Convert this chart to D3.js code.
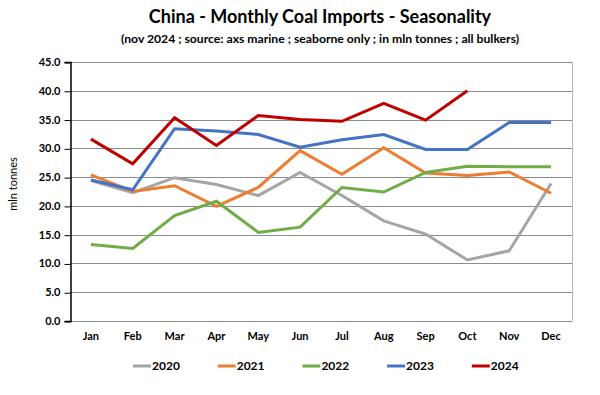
<!DOCTYPE html>
<html>
<head>
<meta charset="utf-8">
<script src="https://cdn.jsdelivr.net/npm/d3@7"></script>
<style>
  body { margin: 0; background: #fff; }
  svg { display: block; font-family: Lato, "Open Sans", sans-serif; }
</style>
</head>
<body>
<svg id="chart" width="600" height="395"></svg>
<script>
// Datos
const months = ['Jan', 'Feb', 'Mar', 'Apr', 'May', 'Jun', 'Jul', 'Aug', 'Sep', 'Oct', 'Nov', 'Dec'];
const years = ['2020', '2021', '2022', '2023', '2024'];
const y2020 = [24.4, 22.3, 24.9, 23.7, 21.8, 25.8, 21.8, 17.4, 15.1, 10.6, 12.2, 23.9];
const y2021 = [25.4, 22.5, 23.5, 19.9, 23.2, 29.6, 25.5, 30.1, 25.7, 25.3, 25.9, 22.2];
const y2022 = [13.3, 12.6, 18.3, 20.8, 15.4, 16.3, 23.2, 22.4, 25.8, 26.9, 26.8, 26.8];
const y2023 = [24.5, 22.8, 33.4, 33.0, 32.4, 30.2, 31.5, 32.4, 29.8, 29.8, 34.5, 34.5];
const y2024 = [31.6, 27.3, 35.3, 30.5, 35.7, 35.0, 34.7, 37.8, 34.9, 40.0];
const yTicks = [0, 5, 10, 15, 20, 25, 30, 35, 40, 45];

const series = [y2020, y2021, y2022, y2023, y2024];
const colors = ['#A5A5A5', '#ED7D31', '#70AD47', '#4472C4', '#C00000'];

// Dimensiones
const margins = { left: 70, top: 62, right: 28, bottom: 74 };
const width = 600, height = 395;
const innerWidth = width - margins.left - margins.right;
const innerHeight = height - margins.top - margins.bottom;

const svg = d3.select('#chart');

// Escalas
const x = d3.scalePoint().domain(months).range([0, innerWidth]).padding(0.5);
const y = d3.scaleLinear().domain([0, 45]).range([innerHeight, 0]);

const g = svg.append('g').attr('transform', `translate(${margins.left}, ${margins.top})`);

// Rejilla
g.append('g')
  .selectAll('line')
  .data(yTicks)
  .join('line')
  .attr('x1', 0)
  .attr('x2', innerWidth)
  .attr('y1', d => Math.round(y(d)) + 0.5)
  .attr('y2', d => Math.round(y(d)) + 0.5)
  .style('stroke', '#8c8c8c')
  .style('stroke-width', 1.2);

// Borde derecho
g.append('line')
  .attr('x1', innerWidth + 0.5).attr('x2', innerWidth + 0.5)
  .attr('y1', 0).attr('y2', innerHeight)
  .style('stroke', '#b8b8b8');

// Eje Y
const yAxis = g.append('g')
  .attr('transform', 'translate(0.5, 0)')
  .attr('font-family', null)
  .attr('font-size', null)
  .call(d3.axisLeft(y).tickValues(yTicks).tickSize(6).tickFormat(d3.format('.1f')));
yAxis.attr('font-family', null).attr('font-size', null);
yAxis.select('.domain').style('stroke', '#000').style('stroke-width', 1.5);
yAxis.selectAll('.tick line').style('stroke', '#000').attr('transform', 'translate(0, 0.5)');
yAxis.selectAll('.tick text')
  .attr('x', -10)
  .style('font-size', '11px')
  .style('font-weight', 'bold')
  .style('fill', '#000');

// Eje X (solo etiquetas)
g.append('g')
  .selectAll('text')
  .data(months)
  .join('text')
  .attr('x', d => x(d))
  .attr('y', innerHeight + 19)
  .style('text-anchor', 'middle')
  .style('font-size', '11px')
  .style('font-weight', 'bold')
  .text(d => d);

// Líneas
const line = d3.line()
  .x((d, i) => x(months[i]))
  .y(d => y(d));

g.append('g')
  .selectAll('path')
  .data(series)
  .join('path')
  .attr('d', d => line(d))
  .style('fill', 'none')
  .style('stroke', (d, i) => colors[i])
  .style('stroke-width', 3)
  .style('stroke-linejoin', 'miter');

// Títulos
svg.append('text')
  .attr('x', 320)
  .attr('y', 23)
  .style('text-anchor', 'middle')
  .style('font-size', '18px')
  .style('font-weight', 'bold')
  .text('China - Monthly Coal Imports - Seasonality');

svg.append('text')
  .attr('x', 320)
  .attr('y', 43)
  .style('text-anchor', 'middle')
  .style('font-size', '12.2px')
  .style('font-weight', 'bold')
  .text('(nov 2024 ; source: axs marine ; seaborne only ; in mln tonnes ; all bulkers)');

svg.append('text')
  .attr('transform', 'translate(17, 184) rotate(-90)')
  .style('text-anchor', 'middle')
  .style('font-size', '11px')
  .text('mln tonnes');

// Leyenda
const legend = svg.append('g')
  .selectAll('g.legend-item')
  .data(years)
  .join('g')
  .attr('class', 'legend-item')
  .attr('transform', (d, i) => `translate(${133 + i * 84.7}, 366)`);

legend.append('line')
  .attr('x1', 0).attr('x2', 18)
  .style('stroke', (d, i) => colors[i])
  .style('stroke-width', 3);

legend.append('text')
  .attr('x', 19)
  .attr('y', 4)
  .style('font-size', '12px')
  .style('font-weight', 'bold')
  .text(d => d);
</script>
</body>
</html>
